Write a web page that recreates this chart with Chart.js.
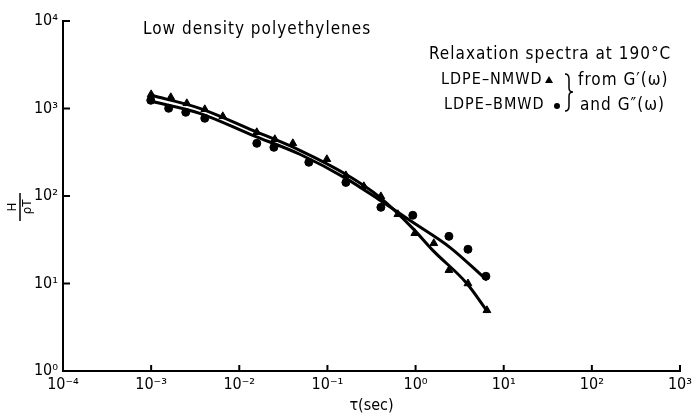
<!DOCTYPE html>
<html>
<head>
<meta charset="utf-8">
<script src="https://cdn.jsdelivr.net/npm/chart.js@4.4.0/dist/chart.umd.min.js"></script>
<style>
html, body { margin: 0; padding: 0; background: #fff; }
</style>
</head>
<body>
<canvas id="spectraChart" width="694" height="416"></canvas>
<script>
// relaxation spectra H/(rho T) vs tau
const nmwdTau = [0.001, 0.00167, 0.00254, 0.00406, 0.0065, 0.0158, 0.0253, 0.0405, 0.0985, 0.162, 0.259, 0.404, 0.63, 0.98, 1.61, 2.39, 3.93, 6.45];
const nmwdH = [1450, 1343, 1146, 979, 814, 535, 445, 400, 263, 172, 129, 99, 61.8, 37.5, 28.8, 14.2, 10.0, 4.94];

const bmwdTau = [0.00099, 0.00158, 0.00247, 0.00406, 0.0158, 0.0247, 0.0615, 0.162, 0.404, 0.93, 2.39, 3.93, 6.28];
const bmwdH = [1241, 1005, 905, 773, 400, 360, 243, 143, 74.3, 60.2, 34.6, 24.6, 12.1];

// the hand drawn fitted curves
const nmwdFitTau = [0.001, 0.00356, 0.0142, 0.0486, 0.162, 0.394, 0.93, 1.57, 3.82, 6.62];
const nmwdFitH = [1416, 1005, 563, 333, 177, 96.6, 42.7, 23.9, 10.0, 4.69];
const bmwdFitTau = [0.001, 0.00356, 0.0142, 0.0486, 0.162, 0.394, 0.93, 2.45, 6.45];
const bmwdFitH = [1208, 881, 494, 300, 159, 89.3, 50.1, 25.9, 10.9];

const xTicks = [1e-4, 1e-3, 1e-2, 1e-1, 1e0, 1e1, 1e2, 1e3];
const xTickLabels = ['10⁻⁴', '10⁻³', '10⁻²', '10⁻¹', '10⁰', '10¹', '10²', '10³'];
const yTicks = [1, 10, 100, 1000, 10000];
const yTickLabels = ['10⁰', '10¹', '10²', '10³', '10⁴'];

const FONT = '"DejaVu Sans Condensed", "DejaVu Sans", sans-serif';

function pts(xs, ys) {
    return xs.map((v, i) => ({ x: v, y: ys[i] }));
}

const extras = {
    id: 'extras',
    afterDraw(chart) {
        const ctx = chart.ctx;
        const xs = chart.scales.x;
        const ys = chart.scales.y;
        ctx.save();
        ctx.strokeStyle = '#000';
        ctx.fillStyle = '#000';
        ctx.lineWidth = 2;

        // inward tick marks
        xTicks.forEach(v => {
            const px = xs.getPixelForValue(v);
            ctx.beginPath();
            ctx.moveTo(px, ys.bottom);
            ctx.lineTo(px, ys.bottom - 6);
            ctx.stroke();
        });
        yTicks.forEach(v => {
            const py = ys.getPixelForValue(v);
            ctx.beginPath();
            ctx.moveTo(xs.left, py);
            ctx.lineTo(xs.left + 7, py);
            ctx.stroke();
        });

        // y axis title: H over rho T, turned on its side
        ctx.save();
        ctx.translate(20, 207);
        ctx.rotate(-Math.PI / 2);
        ctx.font = '13px ' + FONT;
        ctx.textAlign = 'center';
        ctx.textBaseline = 'middle';
        ctx.fillText('H', 0, -7);
        ctx.fillText('ρT', 0, 8);
        ctx.lineWidth = 1.5;
        ctx.beginPath();
        ctx.moveTo(-14, 0);
        ctx.lineTo(14, 0);
        ctx.stroke();
        ctx.restore();

        // texts
        ctx.textBaseline = 'middle';
        ctx.textAlign = 'left';
        ctx.letterSpacing = '1px';
        ctx.font = '17px ' + FONT;
        ctx.fillText('Low density polyethylenes', 143, 30);
        ctx.fillText('Relaxation spectra at 190°C', 429, 55);
        ctx.fillText('from G′(ω)', 578, 81);
        ctx.fillText('and G″(ω)', 580, 106);
        ctx.font = '16px ' + FONT;
        ctx.fillText('LDPE–NMWD', 441, 80);
        ctx.fillText('LDPE–BMWD', 444, 105);
        ctx.letterSpacing = '0px';

        // legend symbols
        ctx.beginPath();
        ctx.moveTo(549, 76);
        ctx.lineTo(553, 83);
        ctx.lineTo(545, 83);
        ctx.closePath();
        ctx.fill();
        ctx.beginPath();
        ctx.arc(557, 106, 3, 0, Math.PI * 2);
        ctx.fill();

        // brace
        const bx = 565, top = 74, bot = 111, mid = 92;
        ctx.lineWidth = 1.5;
        ctx.beginPath();
        ctx.moveTo(bx, top);
        ctx.quadraticCurveTo(bx + 4, top, bx + 4, top + 5);
        ctx.lineTo(bx + 4, mid - 4);
        ctx.quadraticCurveTo(bx + 4, mid, bx + 8, mid);
        ctx.quadraticCurveTo(bx + 4, mid, bx + 4, mid + 4);
        ctx.lineTo(bx + 4, bot - 5);
        ctx.quadraticCurveTo(bx + 4, bot, bx, bot);
        ctx.stroke();
        ctx.restore();
    }
};

const ctx = document.getElementById('spectraChart').getContext('2d');

const spectraChart = new Chart(ctx, {
    type: 'scatter',
    data: {
        datasets: [
            {
                label: 'LDPE-NMWD fit',
                data: pts(nmwdFitTau, nmwdFitH),
                showLine: true,
                borderColor: '#000',
                borderWidth: 3,
                cubicInterpolationMode: 'monotone',
                pointRadius: 0
            },
            {
                label: 'LDPE-BMWD fit',
                data: pts(bmwdFitTau, bmwdFitH),
                showLine: true,
                borderColor: '#000',
                borderWidth: 3,
                cubicInterpolationMode: 'monotone',
                pointRadius: 0
            },
            {
                label: 'LDPE-NMWD',
                data: pts(nmwdTau, nmwdH),
                pointStyle: 'triangle',
                pointRadius: 4.5,
                backgroundColor: '#000',
                borderColor: '#000'
            },
            {
                label: 'LDPE-BMWD',
                data: pts(bmwdTau, bmwdH),
                pointStyle: 'circle',
                pointRadius: 4,
                backgroundColor: '#000',
                borderColor: '#000'
            }
        ]
    },
    options: {
        responsive: false,
        animation: false,
        devicePixelRatio: 1,
        layout: { padding: { top: 21, right: 14, left: 0, bottom: 0 } },
        plugins: {
            legend: { display: false },
            tooltip: { enabled: false }
        },
        scales: {
            x: {
                type: 'logarithmic',
                min: 1e-4,
                max: 1e3,
                afterBuildTicks: s => { s.ticks = xTicks.map(v => ({ value: v })); },
                afterFit: s => { s.height = 45; s.paddingLeft = 0; s.paddingRight = 0; },
                grid: { display: false, drawTicks: false },
                border: { display: true, color: '#000', width: 2 },
                ticks: {
                    autoSkip: false,
                    maxRotation: 0,
                    padding: 4,
                    color: '#000',
                    font: { family: FONT, size: 16 },
                    callback: (v, i) => xTickLabels[i]
                },
                title: {
                    display: true,
                    text: 'τ(sec)',
                    color: '#000',
                    font: { family: FONT, size: 16 },
                    padding: { top: 0, bottom: 1 }
                }
            },
            y: {
                type: 'logarithmic',
                min: 1,
                max: 10000,
                afterBuildTicks: s => { s.ticks = yTicks.map(v => ({ value: v })); },
                afterFit: s => { s.width = 63; s.paddingTop = 0; s.paddingBottom = 0; },
                grid: { display: false, drawTicks: false },
                border: { display: true, color: '#000', width: 2 },
                ticks: {
                    autoSkip: false,
                    padding: 5,
                    color: '#000',
                    font: { family: FONT, size: 16 },
                    callback: (v, i) => yTickLabels[i]
                }
            }
        }
    },
    plugins: [extras]
});
</script>
</body>
</html>
